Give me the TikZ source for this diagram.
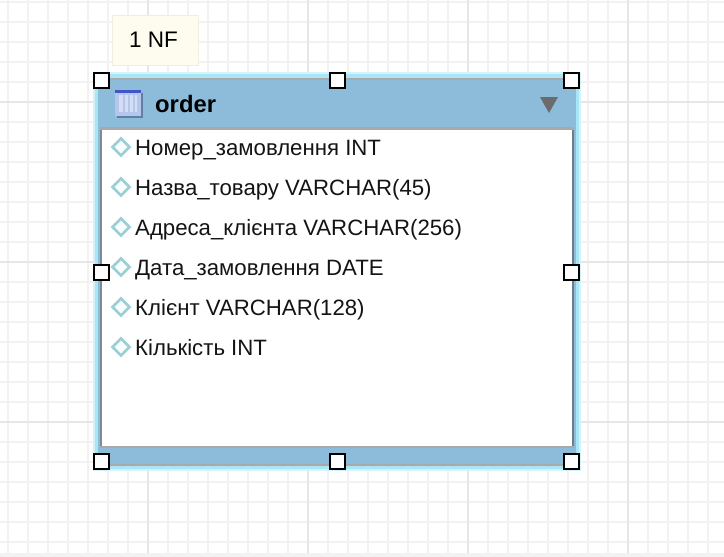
\documentclass[tikz,border=0pt]{standalone}
\usepackage{fontspec}
\setmainfont{Liberation Sans}
\usetikzlibrary{shapes.geometric}
\definecolor{gridminor}{HTML}{F2F2F2}
\definecolor{gridmajor}{HTML}{E6E6E6}
\definecolor{glow}{HTML}{A8E6F5}
\definecolor{glowsoft}{HTML}{D2F3FA}
\definecolor{tablue}{HTML}{8DBBDA}
\definecolor{edgegrey}{HTML}{A9A9A9}
\definecolor{notefill}{HTML}{FEFCEE}
\definecolor{noteedge}{HTML}{F0EEE0}
\definecolor{arrowgrey}{HTML}{6B6B6B}
\definecolor{iconblue}{HTML}{3F55C8}
\definecolor{iconfill}{HTML}{B5C6EA}
\definecolor{iconstripe}{HTML}{D3DDF3}
\definecolor{iconshade}{HTML}{5F7FA5}
\definecolor{dmdedge}{HTML}{9CCFD3}
\definecolor{dmdfill}{HTML}{F7FCFC}
\tikzset{
  handle/.style={draw=black,fill=white,line width=2pt,minimum size=15pt,inner sep=0pt,outer sep=0pt},
  fieldtext/.style={anchor=base west,inner sep=0pt,font=\fontsize{22.2pt}{26pt}\selectfont,text=black!92},
  dmd/.style={draw=dmdedge,fill=dmdfill,line width=2.6pt,diamond,minimum size=18pt,inner sep=0pt},
}
\begin{document}
\begin{tikzpicture}[x=1pt,y=-1pt]
\useasboundingbox (0,0) rectangle (724,557);
\fill[white] (0,0) rectangle (724,557);
% grid
\foreach \gx in {8,28,...,728}{\draw[gridminor,line width=1.3pt] (\gx,0) -- (\gx,553);}
\foreach \gy in {2,22,...,542}{\draw[gridminor,line width=1.3pt] (0,\gy) -- (724,\gy);}
\foreach \gx in {148,308,468,628}{\draw[gridmajor,line width=1.3pt] (\gx,0) -- (\gx,553);}
\foreach \gy in {102,262,422}{\draw[gridmajor,line width=1.3pt] (0,\gy) -- (724,\gy);}
\fill[gridminor] (0,553) rectangle (724,557);
% note
\node[draw=noteedge,fill=notefill,line width=1pt,minimum width=86pt,minimum height=50pt,inner sep=0pt,font=\fontsize{22.5pt}{26pt}\selectfont] (note) at (155,40) {\hspace{-3pt}1 NF};
% table
\fill[glowsoft] (93,72) rectangle (581,471);
\fill[glow] (95,74) rectangle (579,469);
\fill[tablue] (98,78) rectangle (576,466);
\fill[edgegrey] (100,78) rectangle (574,80);
\fill[edgegrey] (100,127) rectangle (574,130);
\fill[edgegrey] (100,464) rectangle (574,466);
\fill[edgegrey] (100,446) rectangle (574,448);
\fill[arrowgrey!60!tablue] (100,130) rectangle (102,446);
\fill[arrowgrey!80!tablue] (572,130) rectangle (574,446);
\node[fill=white,minimum width=470pt,minimum height=316pt,inner sep=0pt,outer sep=0pt] (body) at (337,288) {};
% icon
\fill[iconshade] (117,93) rectangle (143,118);
\fill[iconfill] (115,91) rectangle (141,116);
\fill[iconstripe] (119,95) rectangle (137,112);
\foreach \ix in {123,128,133}{\fill[iconfill] (\ix,95) rectangle (\ix+1.5,112);}
\fill[iconblue] (115,90) rectangle (141,93);
\node[anchor=base west,inner sep=0pt,font=\fontsize{23.8pt}{26pt}\selectfont\bfseries] (title) at (155,112) {order};
% collapse arrow
\fill[arrowgrey] (540,97) -- (558,97) -- (549,113) -- cycle;
% fields
\foreach \rowy/\rowt [count=\rowno] in {147/{Номер\_замовлення INT},187/{Назва\_товару VARCHAR(45)},227/{Адреса\_клієнта VARCHAR(256)},267/{Дата\_замовлення DATE},307/{Клієнт VARCHAR(128)},347/{Кількість INT}}{
  \node[dmd] (d\rowno) at (121,\rowy) {};
  \node[fieldtext] (f\rowno) at (135,\rowy+8) {\rowt};
}
% handles
\node[handle] (h1) at (101,80) {};
\node[handle] (h2) at (337,80) {};
\node[handle] (h3) at (571,80) {};
\node[handle] (h4) at (101,272) {};
\node[handle] (h5) at (571,272) {};
\node[handle] (h6) at (101,461) {};
\node[handle] (h7) at (337,461) {};
\node[handle] (h8) at (571,461) {};
\end{tikzpicture}
\end{document}
